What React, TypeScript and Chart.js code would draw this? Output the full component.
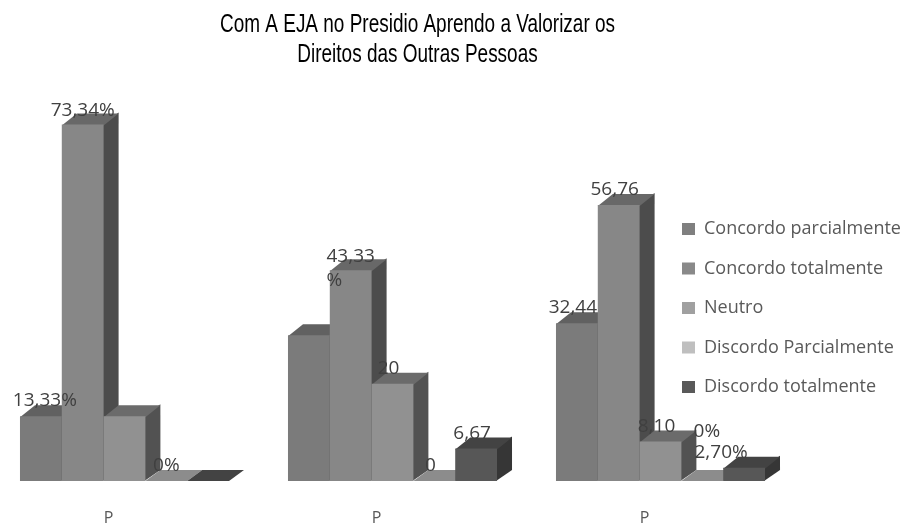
import { useEffect, useRef } from 'react';
import { Chart, registerables } from 'chart.js';

Chart.register(...registerables);

// ---------- data ----------
const CATEGORIES = ['P', 'P', 'P'];
const SERIES_NAMES = [
  'Concordo parcialmente',
  'Concordo totalmente',
  'Neutro',
  'Discordo Parcialmente',
  'Discordo totalmente',
];
const CONCORDO_PARCIALMENTE = [13.33, 30, 32.44];
const CONCORDO_TOTALMENTE = [73.34, 43.33, 56.76];
const NEUTRO = [13.33, 20, 8.1];
const DISCORDO_PARCIALMENTE = [0, 0, 0];
const DISCORDO_TOTALMENTE = [0, 6.67, 2.7];

// value labels as printed on the chart ('' = no label shown)
const LABELS_CONCORDO_PARCIALMENTE = ['13,33%', '', '32,44'];
const LABELS_CONCORDO_TOTALMENTE = ['73,34%', '43,33\n%', '56,76'];
const LABELS_NEUTRO = ['', '20', '8,10'];
const LABELS_DISCORDO_PARCIALMENTE = ['0%', '0', '0%'];
const LABELS_DISCORDO_TOTALMENTE = ['', '6,67', '2,70%'];

const TITLE_LINES = ['Com A EJA no Presidio Aprendo a Valorizar os', 'Direitos das Outras Pessoas'];
const Y_MIN = 0;
const Y_MAX = 80;

const SERIES = [
  CONCORDO_PARCIALMENTE,
  CONCORDO_TOTALMENTE,
  NEUTRO,
  DISCORDO_PARCIALMENTE,
  DISCORDO_TOTALMENTE,
];
const SERIES_LABELS = [
  LABELS_CONCORDO_PARCIALMENTE,
  LABELS_CONCORDO_TOTALMENTE,
  LABELS_NEUTRO,
  LABELS_DISCORDO_PARCIALMENTE,
  LABELS_DISCORDO_TOTALMENTE,
];

// ---------- styles ----------
const FRONT = ['#7b7b7b', '#878787', '#919191', '#b3b3b3', '#575757'];
const TOP = ['#616161', '#686868', '#6b6b6b', '#8c8c8c', '#434343'];
const SIDE = ['#4e4e4e', '#4c4c4c', '#525252', '#6a6a6a', '#363636'];
const LEGEND_COLORS = ['#7f7f7f', '#898989', '#a0a0a0', '#bfbfbf', '#595959'];
const DEPTH_X = 15;
const DEPTH_Y = 11;
const LABEL_FONT = '19px "Open Sans"';
const LABEL_COLOR = '#404040';
const LABEL_DX = -4;
const LABEL_DY = -10;
const LABEL_LINE = 24.3;
// manual nudges of individual labels: key = datasetIndex-categoryIndex
const LABEL_NUDGE: Record<string, [number, number]> = {
  '0-0': [8, 0],
  '1-0': [4, 2],
  '3-0': [4, 0],
  '1-1': [4, 1.4],
  '3-2': [8.5, -34],
  '4-2': [-19, 0],
};
const TITLE_FONT = '26px "Liberation Sans", Arial, sans-serif';
const TITLE_CX = 417.5;
const TITLE_BASELINES = [31.5, 61.5];
const TITLE_LINE1_WIDTH = 395;

const titlePlugin = {
  id: 'narrowTitle',
  afterDraw(chart: any) {
    const ctx: CanvasRenderingContext2D = chart.ctx;
    ctx.save();
    ctx.font = TITLE_FONT;
    ctx.fillStyle = '#000000';
    ctx.textAlign = 'center';
    ctx.textBaseline = 'alphabetic';
    const sx = TITLE_LINE1_WIDTH / ctx.measureText(TITLE_LINES[0]).width;
    ctx.translate(TITLE_CX, 0);
    ctx.scale(sx, 1);
    TITLE_LINES.forEach((line, k) => ctx.fillText(line, 0, TITLE_BASELINES[k]));
    ctx.restore();
  },
};

const depthPlugin = {
  id: 'depth3d',
  beforeDatasetsDraw(chart: any) {
    const ctx: CanvasRenderingContext2D = chart.ctx;
    const n = chart.data.labels.length;
    ctx.save();
    for (let j = 0; j < n; j++) {
      chart.data.datasets.forEach((_ds: any, i: number) => {
        const meta = chart.getDatasetMeta(i);
        if (meta.hidden) return;
        const el = meta.data[j];
        if (!el) return;
        const { x, y, base, width } = el.getProps(['x', 'y', 'base', 'width'], true);
        const l = x - width / 2;
        const r = x + width / 2;
        const tall = base - y > 1;
        const e = tall ? 1 : 0;
        // right side face
        ctx.fillStyle = SIDE[i];
        ctx.beginPath();
        ctx.moveTo(r - e, y - e);
        ctx.lineTo(r + DEPTH_X, y - DEPTH_Y - e);
        ctx.lineTo(r + DEPTH_X, base - DEPTH_Y);
        ctx.lineTo(r - e, base);
        ctx.closePath();
        ctx.fill();
        // top face
        ctx.fillStyle = TOP[i];
        ctx.beginPath();
        ctx.moveTo(l, y + e);
        ctx.lineTo(l + DEPTH_X, y - DEPTH_Y);
        ctx.lineTo(r + DEPTH_X, y - DEPTH_Y);
        ctx.lineTo(r, y + e);
        ctx.closePath();
        ctx.fill();
      });
    }
    ctx.restore();
  },
  afterDatasetsDraw(chart: any) {
    const ctx: CanvasRenderingContext2D = chart.ctx;
    ctx.save();
    ctx.font = LABEL_FONT;
    ctx.fillStyle = LABEL_COLOR;
    ctx.textAlign = 'left';
    ctx.textBaseline = 'alphabetic';
    chart.data.datasets.forEach((_ds: any, i: number) => {
      const meta = chart.getDatasetMeta(i);
      meta.data.forEach((el: any, j: number) => {
        const text = SERIES_LABELS[i][j];
        if (!text) return;
        const { x, y } = el.getProps(['x', 'y'], true);
        const [nx, ny] = LABEL_NUDGE[`${i}-${j}`] || [0, 0];
        const lines = text.split('\n');
        const cx = x + LABEL_DX + nx;
        const by = y + LABEL_DY + ny;
        const x0 = cx - ctx.measureText(lines[0]).width / 2;
        lines.forEach((line, k) => ctx.fillText(line, x0, by + k * LABEL_LINE));
      });
    });
    ctx.restore();
  },
};

export default function App() {
  const ref = useRef<HTMLCanvasElement>(null);
  useEffect(() => {
    document.body.style.margin = '0';
    const canvas = ref.current;
    if (!canvas) return;

    const W = 911;
    const LEG_FS = 18;
    const LEG_PAD = 21.5;
    const BOX_W = 13;
    const PLOT_LEFT = 124.5;
    const PLOT_RIGHT = 660.5;
    const PAD_TOP = 92;
    const PAD_BOTTOM = 3;
    const PLOT_BOTTOM = 481;

    const mctx = document.createElement('canvas').getContext('2d')!;
    mctx.font = `${LEG_FS}px "Open Sans"`;
    const textW = Math.max(...SERIES_NAMES.map((s) => mctx.measureText(s).width));
    const legendNatural = LEG_PAD + BOX_W + LEG_FS / 2 + textW + 10;
    const legendTarget = W - PLOT_RIGHT;
    const padRight = Math.max(0, legendTarget - legendNatural);
    const xAxisHeight = 527 - PAD_BOTTOM - PLOT_BOTTOM;

    const chart = new Chart(canvas, {
      type: 'bar',
      data: {
        labels: CATEGORIES,
        datasets: SERIES.map((data, i) => ({
          label: SERIES_NAMES[i],
          data,
          backgroundColor: FRONT[i],
          borderWidth: 0,
          categoryPercentage: 0.78,
          barPercentage: 1,
          clip: false as any,
        })),
      },
      options: {
        responsive: false,
        animation: false,
        devicePixelRatio: 1,
        layout: { padding: { left: PLOT_LEFT, right: padRight, top: PAD_TOP, bottom: PAD_BOTTOM } },
        scales: {
          x: {
            offset: false,
            grid: { display: false, drawTicks: false },
            border: { display: false },
            ticks: {
              color: '#595959',
              font: { family: '"Open Sans"', size: 16 },
              padding: 27.9,
              labelOffset: -16,
              maxRotation: 0,
              autoSkip: false,
            },
            afterFit: (s: any) => {
              s.height = xAxisHeight;
            },
          },
          y: {
            display: false,
            min: Y_MIN,
            max: Y_MAX,
          },
        },
        plugins: {
          title: { display: false },
          legend: {
            position: 'right',
            align: 'center',
            fullSize: true,
            maxWidth: legendTarget - padRight,
            labels: {
              color: '#595959',
              font: { family: '"Open Sans"', size: LEG_FS },
              boxWidth: BOX_W,
              boxHeight: 12,
              padding: LEG_PAD,
              generateLabels: (c: any) => {
                const items = (Chart.defaults.plugins.legend.labels as any).generateLabels(c);
                return items.map((it: any, i: number) => ({
                  ...it,
                  fillStyle: LEGEND_COLORS[i],
                  strokeStyle: LEGEND_COLORS[i],
                  lineWidth: 0,
                }));
              },
            },
          },
          tooltip: { enabled: false },
        },
      } as any,
      plugins: [depthPlugin, titlePlugin],
    });
    return () => chart.destroy();
  }, []);

  return (
    <div style={{ width: 911, height: 527 }}>
      <canvas ref={ref} width={911} height={527} style={{ display: 'block' }} />
    </div>
  );
}
